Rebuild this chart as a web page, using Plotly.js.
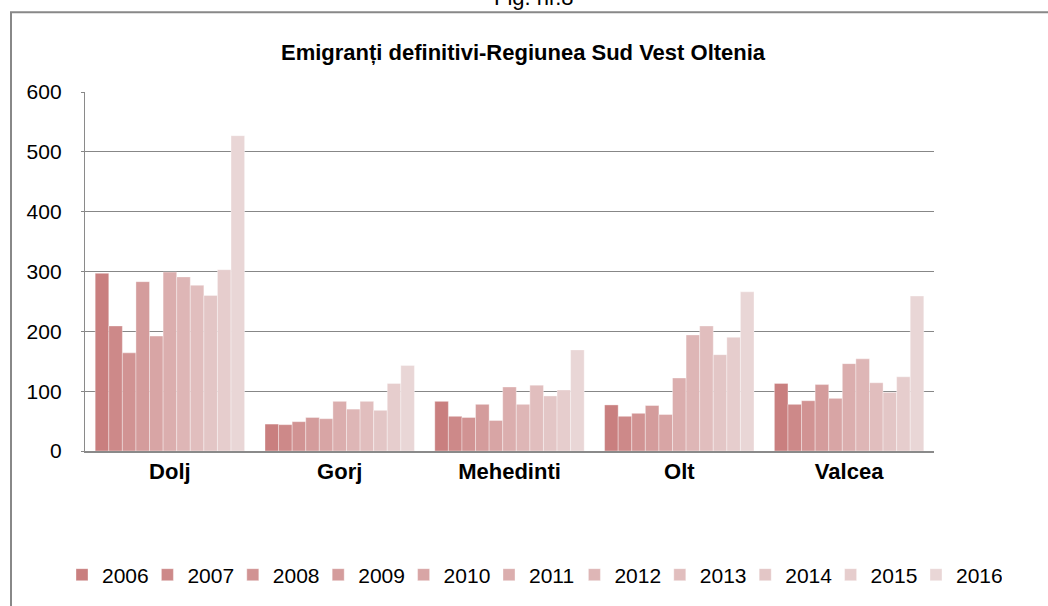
<!DOCTYPE html>
<html>
<head>
<meta charset="utf-8">
<script src="https://cdn.plot.ly/plotly-3.0.1.min.js"></script>
<style>
html,body{margin:0;padding:0;background:#fff;}
#chart{width:1048px;height:606px;}
</style>
</head>
<body>
<div id="chart"></div>
<script>
const categories = ["Dolj", "Gorj", "Mehedinti", "Olt", "Valcea"];
const years = ["2006","2007","2008","2009","2010","2011","2012","2013","2014","2015","2016"];
const v2006 = [297, 45, 83, 77, 113];
const v2007 = [209, 44, 58, 58, 78];
const v2008 = [164, 49, 56, 63, 84];
const v2009 = [283, 56, 78, 76, 111];
const v2010 = [192, 54, 51, 61, 88];
const v2011 = [299, 83, 107, 122, 146];
const v2012 = [291, 70, 78, 194, 154];
const v2013 = [277, 83, 110, 209, 114];
const v2014 = [260, 68, 92, 161, 98];
const v2015 = [303, 113, 102, 190, 124];
const v2016 = [527, 143, 169, 266, 259];
const seriesValues = [v2006, v2007, v2008, v2009, v2010, v2011, v2012, v2013, v2014, v2015, v2016];
const colors = ["#C97F7F","#CD8989","#D19393","#D49C9C","#D8A5A5","#DBAEAE","#DEB6B6","#E1BEBE","#E3C6C6","#E6CDCD","#E9D6D6"];
const yTicks = [0,100,200,300,400,500,600];

const FONT = '"Liberation Sans Narrow", "Arial Narrow", "Liberation Sans", Arial, sans-serif';

const traces = years.map((yr, i) => ({
  type: 'bar',
  name: yr,
  x: categories,
  y: seriesValues[i],
  marker: {color: colors[i], line: {color: 'rgba(255,255,255,0.6)', width: 0.6}},
  hoverinfo: 'x+y+name'
}));

const px = p => (p - 85) / 849;
const py = p => (452 - p) / 360;

const layout = {
  width: 1048, height: 606,
  margin: {l: 85, r: 114, t: 92, b: 154},
  paper_bgcolor: '#fff', plot_bgcolor: '#fff',
  font: {family: FONT, color: '#000', size: 20},
  barmode: 'group',
  bargap: 0.12,
  bargroupgap: 0,
  showlegend: true,
  legend: {
    orientation: 'h',
    x: px(1002), xanchor: 'right',
    y: py(575), yanchor: 'middle',
    font: {family: FONT, size: 21, color: '#000'},
    entrywidth: 40.4, entrywidthmode: 'pixels',
    traceorder: 'normal',
    bgcolor: 'rgba(0,0,0,0)'
  },
  xaxis: {
    type: 'category',
    showgrid: false,
    showline: true, linecolor: '#8a8a8a', linewidth: 1.5,
    ticks: '',
    tickfont: {family: FONT, size: 22, color: '#000', weight: 'bold'},
    ticklabelstandoff: 0
  },
  yaxis: {
    range: [0, 600],
    tickvals: yTicks,
    ticktext: yTicks.map(String),
    showgrid: true, gridcolor: '#878787', gridwidth: 1.3,
    showline: true, linecolor: '#8a8a8a', linewidth: 1.3,
    ticks: 'outside', ticklen: 3, tickcolor: '#878787',
    tickfont: {family: FONT, size: 21, color: '#000'},
    ticklabelstandoff: 15,
    zeroline: false
  },
  annotations: [
    {
      text: '<b>Emigranți definitivi-Regiunea Sud Vest Oltenia</b>',
      xref: 'paper', yref: 'paper',
      x: px(523), y: py(52), xanchor: 'center', yanchor: 'middle',
      showarrow: false,
      font: {family: FONT, size: 22, color: '#000'}
    },
    {
      text: 'Fig. nr.8',
      xref: 'paper', yref: 'paper',
      x: px(533), y: py(12), xanchor: 'center', yanchor: 'bottom',
      showarrow: false,
      font: {family: FONT, size: 22, color: '#000'}
    }
  ],
  shapes: [
    {
      type: 'rect', xref: 'paper', yref: 'paper',
      x0: px(11), x1: px(1052), y0: py(620), y1: py(12),
      line: {color: '#888', width: 2},
      fillcolor: 'rgba(0,0,0,0)',
      layer: 'below'
    }
  ]
};

Plotly.newPlot('chart', traces, layout, {displayModeBar: false, staticPlot: false});
</script>
</body>
</html>
